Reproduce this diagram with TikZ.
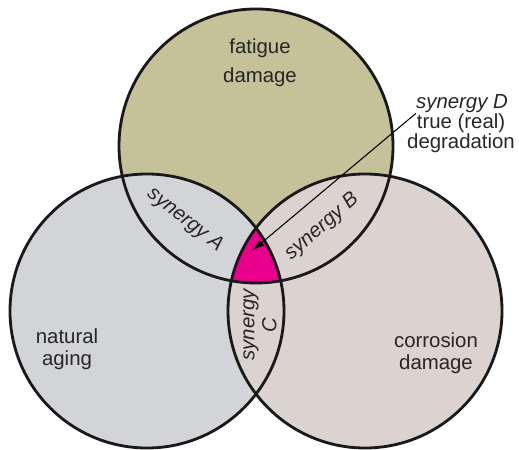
\documentclass[tikz,border=0pt]{standalone}
\usepackage{fontspec}
\setmainfont{Liberation Sans}
\usepackage{tikz}
\usetikzlibrary{arrows.meta,positioning}
\usepackage{xcolor}
\definecolor{fatiguecol}{RGB}{197,194,154}
\definecolor{agingcol}{RGB}{210,212,216}
\definecolor{corrosioncol}{RGB}{218,211,207}
\definecolor{corecol}{RGB}{232,0,140}

\begin{document}
\begin{tikzpicture}[
      x=0.02cm, y=0.02cm,
      ring/.style={draw=black!90, line width=1.6pt},
      lbl/.style={font=\fontsize{11.6}{12.5}\selectfont, text=black!85, align=center},
      syn/.style={lbl, font=\fontsize{11.6}{12.5}\selectfont\itshape}
    ]
    \useasboundingbox (0,0) rectangle (519,-449);
    % circle centres
    \coordinate (ctop) at (256,-146);
    \coordinate (cleft) at (147,-311);
    \coordinate (cright) at (365,-311);
    \coordinate (core) at (253,-250);
    % filled discs, later ones cover the overlaps
    \foreach \c/\col in {ctop/fatiguecol, cleft/agingcol, cright/corrosioncol}{
      \fill[\col] (\c) circle[radius=137];
    }
    % common part of all three
    \begin{scope}
      \clip (ctop) circle[radius=137];
      \clip (cleft) circle[radius=137];
      \fill[corecol] (cright) circle[radius=137];
    \end{scope}
    % outlines
    \foreach \c in {ctop, cleft, cright}{
      \draw[ring] (\c) circle[radius=137];
    }
    % labels
    \node[lbl, font=\fontsize{11.6}{16.5}\selectfont] (fatigue) at (260,-63) {fatigue\\damage};
    \node[lbl] (aging) at (67,-349) {natural\\aging};
    \node[lbl] (corrosion) at (436,-353) {corrosion\\damage};
    \node[syn, rotate=-38] (synA) at (185,-220) {synergy A};
    \node[syn, rotate=41] (synB) at (322,-227) {synergy B};
    \node[syn, rotate=90] (synC) at (260,-325) {synergy\\C};
    \node[syn, inner sep=0pt] (synD) at (462,-104) {synergy D};
    \node[lbl, font=\fontsize{11.6}{11.2}\selectfont] (degr) at (461,-133) {true (real)\\degradation};
    \draw[-{Latex[length=6.5pt,width=4.5pt]}, line width=0.6pt] (synD.south west) -- (core);
  \end{tikzpicture}
\end{document}
